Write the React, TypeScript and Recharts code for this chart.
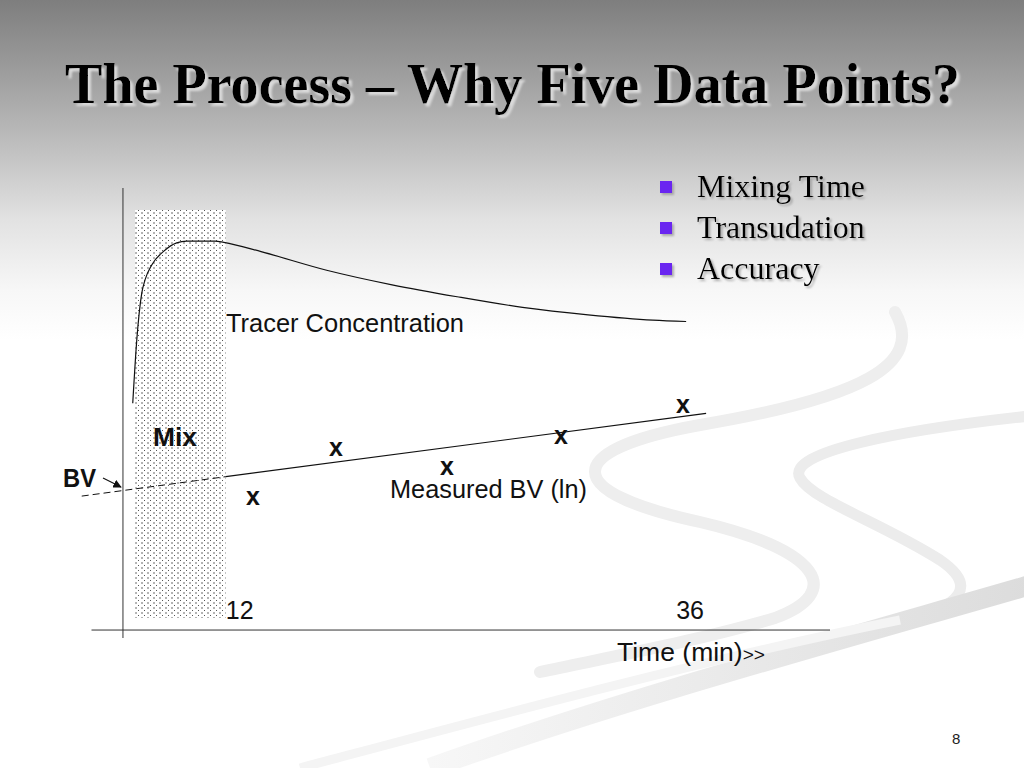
import React from "react";
import {
  ComposedChart,
  Line,
  Scatter,
  XAxis,
  YAxis,
  ReferenceLine,
  ReferenceArea,
} from "recharts";

// tracer concentration curve (min, arbitrary units)
const curveTimes = [7.15, 7.36, 7.62, 7.79, 8.14, 8.74, 9.44, 9.96, 11.44, 11.9, 13.84, 17.26, 20.67, 24.06, 27.47, 30.89, 34.27, 36.0];
const curveValues = [51.3, 65.6, 76.2, 79.2, 82.6, 85.6, 87.6, 88.0, 88.0, 87.7, 85.6, 81.4, 78.1, 75.4, 73.0, 71.3, 70.1, 69.8];

// measured BV (ln) samples
const sampleTimes = [13.42, 17.75, 23.53, 29.48, 35.84];
const sampleValues = [29.9, 40.9, 36.7, 43.7, 50.7];

// fitted line: back-extrapolated part (dashed) and fitted part (solid)
const fitDashTimes = [4.49, 12];
const fitDashValues = [30.3, 34.7];
const fitSolidTimes = [12, 37.04];
const fitSolidValues = [34.7, 49.0];

const timeTicks = [12, 36];
const bullets = ["Mixing Time", "Transudation", "Accuracy"];

const zip = (ts: number[], vs: number[]) => ts.map((t, i) => ({ t, v: vs[i] }));
const curveData = zip(curveTimes, curveValues);
const sampleData = zip(sampleTimes, sampleValues);
const dashData = zip(fitDashTimes, fitDashValues);
const solidData = zip(fitSolidTimes, fitSolidValues);

const SANS = "'Liberation Sans', Arial, sans-serif";
const SERIF = "'Liberation Serif', 'Times New Roman', serif";

const tickShift: Record<number, number> = { 12: 14, 36: 4 };

function renderTimeTick(props: any) {
  const { x, y, payload } = props;
  return (
    <text
      key={payload.value}
      x={x + (tickShift[payload.value] ?? 0)}
      y={y - 19}
      textAnchor="middle"
      fontFamily={SANS}
      fontSize={25}
      fill="#111"
    >
      {payload.value}
    </text>
  );
}

function XMark(props: any) {
  const { cx, cy } = props;
  return (
    <text
      x={cx}
      y={cy + 7}
      textAnchor="middle"
      fontFamily={SANS}
      fontWeight={700}
      fontSize={25}
      fill="#111"
    >
      x
    </text>
  );
}

export default function App() {
  return (
    <div
      style={{
        position: "absolute",
        left: 0,
        top: 0,
        width: 1024,
        height: 768,
        overflow: "hidden",
        background:
          "linear-gradient(to bottom, #7e7e7e 0px, #9c9c9c 70px, #bcbcbc 140px, #e2e2e2 220px, #f7f7f7 290px, #ffffff 340px)",
      }}
    >
      {/* background swooshes + shared defs */}
      <svg
        width={1024}
        height={768}
        style={{ position: "absolute", left: 0, top: 0 }}
      >
        <defs>
          <pattern id="mixDots" width={6} height={5} patternUnits="userSpaceOnUse">
            <rect width={6} height={5} fill="#fff" />
            <rect x={0} y={0} width={1} height={1} fill="#555" />
            <rect x={3} y={2} width={2} height={2} fill="#b4b4b4" />
          </pattern>
          <linearGradient id="bandGrad" x1="0" y1="0" x2="1" y2="0">
            <stop offset="0" stopColor="#f7f7f7" />
            <stop offset="1" stopColor="#dcdcdc" />
          </linearGradient>
        </defs>
        <path
          d="M 895 312 C 925 365 860 398 700 425 C 560 450 560 492 700 522 C 820 550 845 592 775 618 C 700 640 620 655 540 672"
          stroke="#eeeeee"
          strokeWidth={12}
          fill="none"
          strokeLinecap="round"
        />
        <path
          d="M 1030 416 C 900 430 785 452 800 478 C 812 500 880 522 940 560 C 978 586 962 606 905 620"
          stroke="#ececec"
          strokeWidth={11}
          fill="none"
          strokeLinecap="round"
        />
        <path
          d="M 430 768 C 620 700 840 640 1030 585"
          stroke="url(#bandGrad)"
          strokeWidth={20}
          fill="none"
        />
        <path
          d="M 300 768 C 480 720 700 660 900 620"
          stroke="#f4f4f4"
          strokeWidth={9}
          fill="none"
        />
      </svg>

      <div style={{ position: "absolute", left: 0, top: 0 }}>
        <ComposedChart
          width={1024}
          height={768}
          margin={{ top: 188, right: 194, bottom: 100, left: 80 }}
        >
          <XAxis
            type="number"
            dataKey="t"
            domain={[4.4, 43.5]}
            ticks={timeTicks}
            allowDataOverflow
            height={30}
            axisLine={false}
            tickLine={false}
            tickSize={0}
            tickMargin={0}
            tick={renderTimeTick}
            interval={0}
          />
          <YAxis type="number" dataKey="v" domain={[-1.8, 100]} allowDataOverflow hide />
          <ReferenceArea
            x1={7.27}
            x2={12}
            y1={2.7}
            y2={95}
            fill="url(#mixDots)"
            fillOpacity={1}
            stroke="none"
          />
          <ReferenceLine x={6.64} stroke="#333" strokeWidth={1} />
          <ReferenceLine
            segment={[
              { x: 5, y: 0 },
              { x: 43.5, y: 0 },
            ]}
            stroke="#333"
            strokeWidth={1}
          />
          <Line
            data={curveData}
            dataKey="v"
            type="monotone"
            stroke="#111"
            strokeWidth={1.2}
            dot={false}
            isAnimationActive={false}
          />
          <Line
            data={dashData}
            dataKey="v"
            type="linear"
            stroke="#111"
            strokeWidth={1}
            strokeDasharray="7 4"
            dot={false}
            isAnimationActive={false}
          />
          <Line
            data={solidData}
            dataKey="v"
            type="linear"
            stroke="#111"
            strokeWidth={1.2}
            dot={false}
            isAnimationActive={false}
          />
          <Scatter data={sampleData} dataKey="v" shape={<XMark />} isAnimationActive={false} />
        </ComposedChart>
      </div>

      {/* slide text and annotations */}
      <svg
        width={1024}
        height={768}
        style={{ position: "absolute", left: 0, top: 0, pointerEvents: "none" }}
      >
        <defs>
          <filter id="titleShadow" x="-5%" y="-20%" width="110%" height="150%">
            <feDropShadow dx={3} dy={3} stdDeviation={1.2} floodColor="#dadada" floodOpacity={1} />
          </filter>
          <filter id="bulletShadow" x="-5%" y="-20%" width="110%" height="150%">
            <feDropShadow dx={2} dy={2} stdDeviation={0.8} floodColor="#9a9a9a" floodOpacity={0.8} />
          </filter>
          <marker id="arrowHead" viewBox="0 0 10 10" refX={9} refY={5} markerWidth={7} markerHeight={7} orient="auto">
            <path d="M 0 0 L 10 5 L 0 10 z" fill="#111" />
          </marker>
        </defs>

        <text
          x={65}
          y={103}
          fontFamily={SERIF}
          fontWeight={700}
          fontSize={58}
          textLength={895}
          lengthAdjust="spacingAndGlyphs"
          fill="#000"
          filter="url(#titleShadow)"
        >
          The Process – Why Five Data Points?
        </text>

        {bullets.map((b, i) => (
          <g key={b} filter="url(#bulletShadow)">
            <rect x={660} y={181 + i * 41} width={12} height={12} fill="#6a28f0" />
            <text x={697} y={197 + i * 41} fontFamily={SERIF} fontSize={32} fill="#000">
              {b}
            </text>
          </g>
        ))}

        <text x={226} y={332} fontFamily={SANS} fontSize={25} textLength={238} lengthAdjust="spacingAndGlyphs" fill="#111">
          Tracer Concentration
        </text>
        <text x={153} y={446} fontFamily={SANS} fontWeight={700} fontSize={25} textLength={44} lengthAdjust="spacingAndGlyphs" fill="#111">
          Mix
        </text>
        <text x={63} y={487} fontFamily={SANS} fontWeight={700} fontSize={25} textLength={33} lengthAdjust="spacingAndGlyphs" fill="#111">
          BV
        </text>
        <line x1={103} y1={478} x2={121} y2={487} stroke="#111" strokeWidth={1.2} markerEnd="url(#arrowHead)" />
        <text x={390} y={498} fontFamily={SANS} fontSize={25} textLength={197} lengthAdjust="spacingAndGlyphs" fill="#111">
          Measured BV (ln)
        </text>
        <text x={617} y={661} fontFamily={SANS} fontSize={25} textLength={148} lengthAdjust="spacingAndGlyphs" fill="#111">
          Time (min)<tspan fontSize={18}>{">>"}</tspan>
        </text>
        <text x={952} y={744} fontFamily={SANS} fontSize={15} fill="#222">
          8
        </text>
      </svg>
    </div>
  );
}
